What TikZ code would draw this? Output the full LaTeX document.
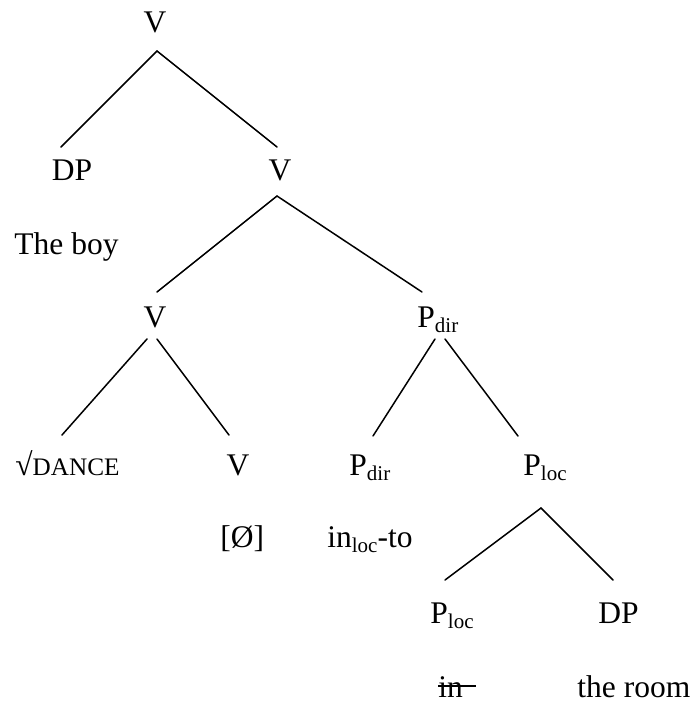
\documentclass[tikz,border=0pt]{standalone}
\usepackage{fontspec}
\setmainfont{Liberation Serif}
\usepackage{tikz}
\newcommand{\lsub}[1]{\raisebox{-0.16em}{\fontsize{10.5}{12}\selectfont #1}}
\newcommand{\smallcp}[1]{{\fontsize{12.6}{14}\selectfont #1}}
\tikzset{
  lab/.style={inner sep=0pt, anchor=base},
  labw/.style={inner sep=0pt, anchor=base west},
  branch/.style={line width=0.75pt, line cap=round},
  strike/.style={line width=0.65pt},
}
\begin{document}
\begin{tikzpicture}[x=0.5pt,y=-0.5pt,font=\fontsize{15.75}{19}\selectfont]
  \useasboundingbox (0,0) rectangle (693,702);
  % labels
  \node[lab] (v0) at (155,32) {V};
  \node[lab] (dp0) at (72,180) {DP};
  \node[lab] (v1) at (280,180) {V};
  \node[lab] (boy) at (66.5,254) {The boy};
  \node[lab] (v2) at (155,327) {V};
  \node[labw] (pdir1) at (417,327) {P\lsub{dir}};
  \node[labw] (root) at (15,475) {√\smallcp{DANCE}};
  \node[lab] (v3) at (238,475) {V};
  \node[labw] (pdir2) at (349,475) {P\lsub{dir}};
  \node[labw] (ploc1) at (523,475) {P\lsub{loc}};
  \node[labw] (null) at (220,547) {[Ø]};
  \node[labw] (inloc) at (327,547) {in\lsub{loc}-to};
  \node[labw] (ploc2) at (430,623) {P\lsub{loc}};
  \node[labw] (dp2) at (598,623) {DP};
  \node[labw] (instr) at (438,697) {in\kern0.4em};
  \node[labw] (room) at (577,697) {the room};
  \draw[strike] ([yshift=5.5pt]instr.base west) -- ([yshift=5.5pt]instr.base east);
  % branch ends
  \coordinate (v0-foot) at (157,51);
  \coordinate (dp0-head) at (61,147);
  \coordinate (v1-head) at (277,147);
  \coordinate (v1-foot) at (277,196);
  \coordinate (v2-head) at (157,292);
  \coordinate (pdir1-head) at (422,292);
  \coordinate (v2-footl) at (147,339);
  \coordinate (v2-footr) at (157,339);
  \coordinate (root-head) at (62,435);
  \coordinate (v3-head) at (229,435);
  \coordinate (pdir1-footl) at (435,339);
  \coordinate (pdir1-footr) at (445,339);
  \coordinate (pdir2-head) at (373,436);
  \coordinate (ploc1-head) at (518,436);
  \coordinate (ploc1-foot) at (541,508);
  \coordinate (ploc2-head) at (445,580);
  \coordinate (dp2-head) at (613,580);
  \foreach \a/\b in {v0-foot/dp0-head, v0-foot/v1-head, v1-foot/v2-head, v1-foot/pdir1-head,
      v2-footl/root-head, v2-footr/v3-head, pdir1-footl/pdir2-head, pdir1-footr/ploc1-head,
      ploc1-foot/ploc2-head, ploc1-foot/dp2-head}
    \draw[branch] (\a) -- (\b);
\end{tikzpicture}
\end{document}
